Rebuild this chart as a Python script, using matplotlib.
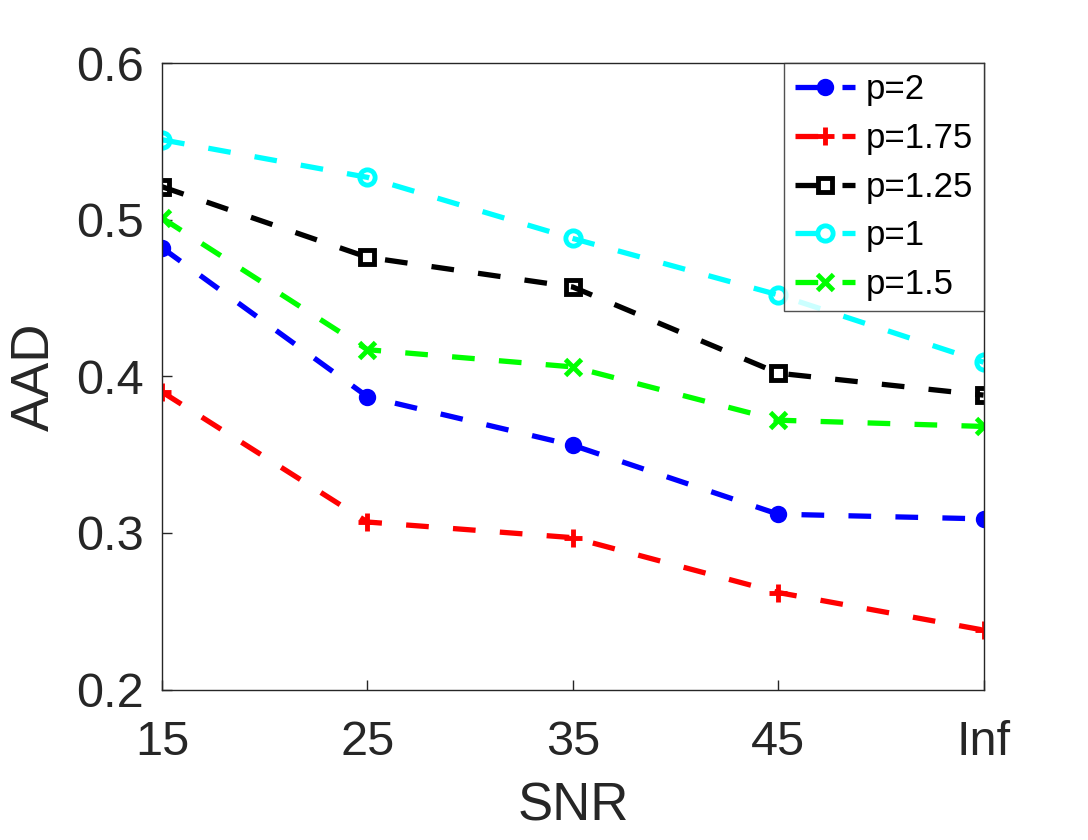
import numpy as np
import matplotlib
matplotlib.use('Agg')
import matplotlib.pyplot as plt

plt.rcParams['font.family'] = ['Liberation Sans', 'DejaVu Sans']

snr_labels = ['15', '25', '35', '45', 'Inf']
labels = ['p=2', 'p=1.75', 'p=1.25', 'p=1', 'p=1.5']
aad_p2 = [0.482, 0.387, 0.356, 0.312, 0.309]
aad_p175 = [0.390, 0.307, 0.297, 0.262, 0.238]
aad_p125 = [0.521, 0.476, 0.457, 0.402, 0.388]
aad_p1 = [0.551, 0.527, 0.488, 0.452, 0.409]
aad_p15 = [0.501, 0.417, 0.406, 0.372, 0.368]

series = [aad_p2, aad_p175, aad_p125, aad_p1, aad_p15]
colors = ['#0000ff', '#ff0000', '#000000', '#00ffff', '#00ff00']
markers = ['o', '+', 's', 'o', 'x']
faces = ['#0000ff', '#ff0000', 'none', 'none', '#00ff00']
msizes = [9, 13, 10, 11, 11]

fig = plt.figure(figsize=(10.88, 8.4), dpi=100)
ax = fig.add_axes([0.149, 0.179, 0.755, 0.746])

x = np.arange(len(snr_labels))
for vals, lab, c, m, fc, ms in zip(series, labels, colors, markers, faces, msizes):
    ax.plot(x, vals, color=c, lw=3.8, dashes=(4.3, 4.6), marker=m,
            markersize=ms, markerfacecolor=fc,
            markeredgecolor=c, markeredgewidth=3.5, label=lab)

ax.set_xlim(0, 4)
ax.set_ylim(0.2, 0.6)
ax.set_xticks(x)
ax.set_xticklabels(snr_labels)
ax.set_yticks([0.2, 0.3, 0.4, 0.5, 0.6])
ax.set_yticklabels(['0.2', '0.3', '0.4', '0.5', '0.6'])
ax.tick_params(direction='in', labelsize=35, length=7, width=1, colors='#262626')
ax.tick_params(axis='x', pad=22)
ax.tick_params(axis='y', pad=13)
for s in ax.spines.values():
    s.set_color('#262626')
    s.set_linewidth(1)

ax.set_xlabel('SNR', fontsize=38, color='#262626', labelpad=12)
ax.set_ylabel('AAD', fontsize=38, color='#262626', labelpad=12)

leg = ax.legend(loc='upper right', fontsize=25, frameon=True, fancybox=False,
                edgecolor='#262626', borderaxespad=0, handlelength=1.75,
                handletextpad=0.3, labelspacing=0.45, borderpad=0.3)
leg.get_frame().set_linewidth(1)

fig.savefig('out.png', dpi=100)
